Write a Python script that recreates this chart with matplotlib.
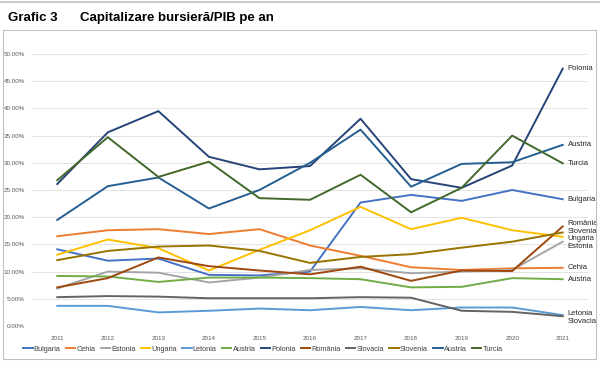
import numpy as np
import matplotlib
matplotlib.use('Agg')
import matplotlib.pyplot as plt
from matplotlib.ticker import FuncFormatter
from matplotlib.patches import Rectangle

plt.rcParams['font.family'] = ['Liberation Sans', 'DejaVu Sans']

years = list(range(2011, 2022))

# capitalizare bursiera / PIB, in procente
bulgaria = [14.1, 12.0, 12.4, 9.4, 9.3, 10.0, 22.7, 24.1, 23.0, 25.0, 23.3]
cehia = [16.5, 17.6, 17.8, 16.9, 17.8, 14.8, 12.9, 10.8, 10.3, 10.6, 10.7]
estonia = [6.9, 10.0, 9.8, 8.0, 8.9, 10.3, 10.6, 9.7, 10.0, 10.3, 15.5]
ungaria = [13.1, 15.9, 14.3, 10.2, 14.0, 17.6, 21.9, 17.8, 19.9, 17.6, 16.4]
letonia = [3.7, 3.7, 2.5, 2.8, 3.2, 2.9, 3.5, 2.9, 3.4, 3.4, 2.0]
austria_v = [9.2, 9.1, 8.1, 8.9, 8.9, 8.8, 8.6, 7.1, 7.2, 8.8, 8.6]
polonia = [26.1, 35.6, 39.5, 31.1, 28.8, 29.4, 38.1, 27.0, 25.4, 29.5, 47.3]
romania = [7.1, 8.8, 12.6, 11.0, 10.2, 9.5, 10.9, 8.3, 10.2, 10.1, 18.3]
slovacia = [5.3, 5.5, 5.4, 5.1, 5.1, 5.1, 5.3, 5.2, 2.8, 2.6, 1.8]
slovenia = [12.1, 13.8, 14.6, 14.8, 13.8, 11.6, 12.7, 13.2, 14.4, 15.5, 17.2]
austria_a = [19.5, 25.7, 27.3, 21.6, 25.0, 30.0, 36.1, 25.6, 29.8, 30.1, 33.3]
turcia = [26.8, 34.7, 27.4, 30.2, 23.5, 23.2, 27.8, 20.9, 25.4, 35.0, 29.9]

names = ['Bulgaria', 'Cehia', 'Estonia', 'Ungaria', 'Letonia', 'Austria',
         'Polonia', 'România', 'Slovacia', 'Slovenia', 'Austria', 'Turcia']
series = [bulgaria, cehia, estonia, ungaria, letonia, austria_v,
          polonia, romania, slovacia, slovenia, austria_a, turcia]
colors = ['#4472C4', '#ED7D31', '#A5A5A5', '#FFC000', '#5B9BD5', '#70AD47',
          '#264478', '#9E480E', '#636363', '#997300', '#255E91', '#43682B']

# etichetele din dreapta (pozitie verticala in %, ajustata sa nu se suprapuna)
end_labels = ['Polonia', 'Austria', 'Turcia', 'Bulgaria', 'România', 'Slovenia',
              'Ungaria', 'Estonia', 'Cehia', 'Austria', 'Letonia', 'Slovacia']
end_pos = [47.3, 33.3, 29.9, 23.3, 18.8, 17.4, 16.1, 14.7, 10.7, 8.6, 2.3, 0.9]

fig = plt.figure(figsize=(6, 3.68), dpi=100)

# chenarul graficului si linia de sus
fig.add_artist(Rectangle((3/600, 1 - 359/368), 593/600, 329/368, transform=fig.transFigure,
                         fill=False, edgecolor='#BFBFBF', lw=0.8))
fig.add_artist(plt.Line2D([0, 1], [1 - 1.5/368, 1 - 1.5/368], transform=fig.transFigure,
                          color='#BFBFBF', lw=1.2))

fig.text(8/600, 1 - 18/368, 'Grafic 3', fontsize=9.5, fontweight='bold', va='center')
fig.text(80/600, 1 - 18/368, 'Capitalizare bursieră/PIB pe an', fontsize=9.5,
         fontweight='bold', va='center')

ax = fig.add_axes([32/600, 1 - 326/368, 556/600, 272/368])
for vals, c, n in zip(series, colors, names):
    ax.plot(years, np.array(vals) / 100, color=c, lw=1.4, label=n)

ax.set_xlim(2010.5, 2021.5)
ax.set_ylim(0, 0.5)
ax.set_yticks(np.arange(0, 0.51, 0.05))
ax.yaxis.set_major_formatter(FuncFormatter(lambda v, p: f'{v*100:.2f}%'))
ax.set_xticks(years)
ax.tick_params(axis='y', length=0, labelsize=4.5, colors='#595959', pad=5)
ax.tick_params(axis='x', length=0, labelsize=4.5, colors='#595959', pad=7)
ax.grid(axis='y', color='#E3E3E3', lw=0.7)
for s in ax.spines.values():
    s.set_visible(False)
ax.set_axisbelow(True)

for lab, pos in zip(end_labels, end_pos):
    ax.text(2021.1, pos / 100, lab, fontsize=5.5, color='#262626', va='center')

ax.legend(loc='center', bbox_to_anchor=(0.415, -0.085), ncol=12, frameon=False,
          fontsize=5.3, handlelength=1.3, handletextpad=0.15, columnspacing=0.7,
          labelcolor='#404040')

fig.savefig('out.png', dpi=100)
